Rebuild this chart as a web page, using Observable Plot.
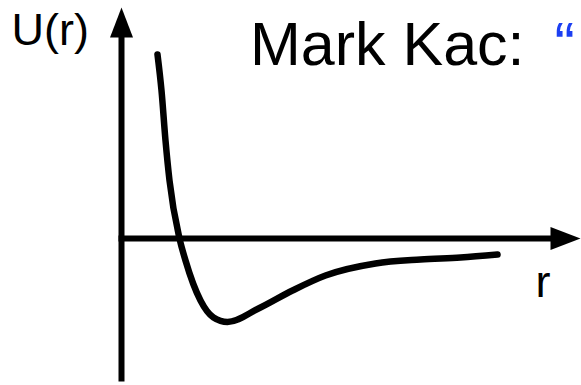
<!DOCTYPE html>
<html>
<head>
<meta charset="utf-8">
<script src="https://cdn.jsdelivr.net/npm/d3@7"></script>
<script src="https://cdn.jsdelivr.net/npm/@observablehq/plot@0.6"></script>
<style>
  html, body { margin: 0; padding: 0; background: #fff; }
</style>
</head>
<body>
<div id="chart"></div>
<script>
// Potential curve U(r) (schematic units)
const curveR = [0.36, 0.40, 0.44, 0.48, 0.58, 0.64, 0.79, 0.92, 1.06, 1.37, 1.71, 2.04, 2.54, 2.99, 3.39, 3.76];
const curveU = [1.84, 1.48, 0.98, 0.58, 0.00, -0.22, -0.62, -0.79, -0.835, -0.70, -0.52, -0.37, -0.25, -0.21, -0.19, -0.16];

// Axes: shaft ends and arrow tips
const axisNames = ["U", "r"];
const axisX1 = [0, -0.03];
const axisY1 = [-1.43, 0];
const axisX2 = [0, 4.35];
const axisY2 = [2.05, 0];
const tipX = [0, 4.59];
const tipY = [2.31, 0];

// Labels
const labelTexts = ["U(r)", "r", "Mark Kac:", "\u201C"];
const labelX = [-1.10, 4.14, 1.285, 4.33];
const labelY = [1.94, -0.58, 1.74, 1.74];

const curve = curveR.map((r, i) => ({r, U: curveU[i]}));
const axes = axisNames.map((name, i) => ({name, x1: axisX1[i], y1: axisY1[i], x2: axisX2[i], y2: axisY2[i], tx: tipX[i], ty: tipY[i]}));
const labels = labelTexts.map((t, i) => ({t, x: labelX[i], y: labelY[i]}));

const L = 30, W = 23;
const arrowUp = {draw(ctx) { ctx.moveTo(0, 0); ctx.lineTo(-W / 2, L); ctx.lineTo(W / 2, L); ctx.closePath(); }};
const arrowRight = {draw(ctx) { ctx.moveTo(0, 0); ctx.lineTo(-L, -W / 2); ctx.lineTo(-L, W / 2); ctx.closePath(); }};

const font = "'Liberation Sans', Arial, Helvetica, sans-serif";

const chart = Plot.plot({
  width: 581,
  height: 385,
  margin: 0,
  style: {background: "#fff", fontFamily: font},
  x: {domain: [-1.21, 4.60], axis: null},
  y: {domain: [-1.47, 2.38], axis: null},
  marks: [
    Plot.link(axes, {x1: "x1", y1: "y1", x2: "x2", y2: "y2", stroke: "#000", strokeWidth: 6}),
    Plot.dot(axes.filter(d => d.name === "U"), {x: "tx", y: "ty", symbol: arrowUp, fill: "#000", stroke: "none", r: 10}),
    Plot.dot(axes.filter(d => d.name === "r"), {x: "tx", y: "ty", symbol: arrowRight, fill: "#000", stroke: "none", r: 10}),
    Plot.line(curve, {x: "r", y: "U", curve: "monotone-x", stroke: "#000", strokeWidth: 6.5, strokeLinecap: "round", strokeLinejoin: "round"}),
    Plot.text(labels.slice(0, 2), {x: "x", y: "y", text: "t", textAnchor: "start", lineAnchor: "bottom", fontSize: 45, fill: "#000"}),
    Plot.text(labels.slice(2, 3), {x: "x", y: "y", text: "t", textAnchor: "start", lineAnchor: "bottom", fontSize: 61, fill: "#000"}),
    Plot.text(labels.slice(3, 4), {x: "x", y: "y", text: "t", textAnchor: "start", lineAnchor: "bottom", fontSize: 61, fill: "#1c3ff2"})
  ]
});
document.getElementById("chart").appendChild(chart);
</script>
</body>
</html>
